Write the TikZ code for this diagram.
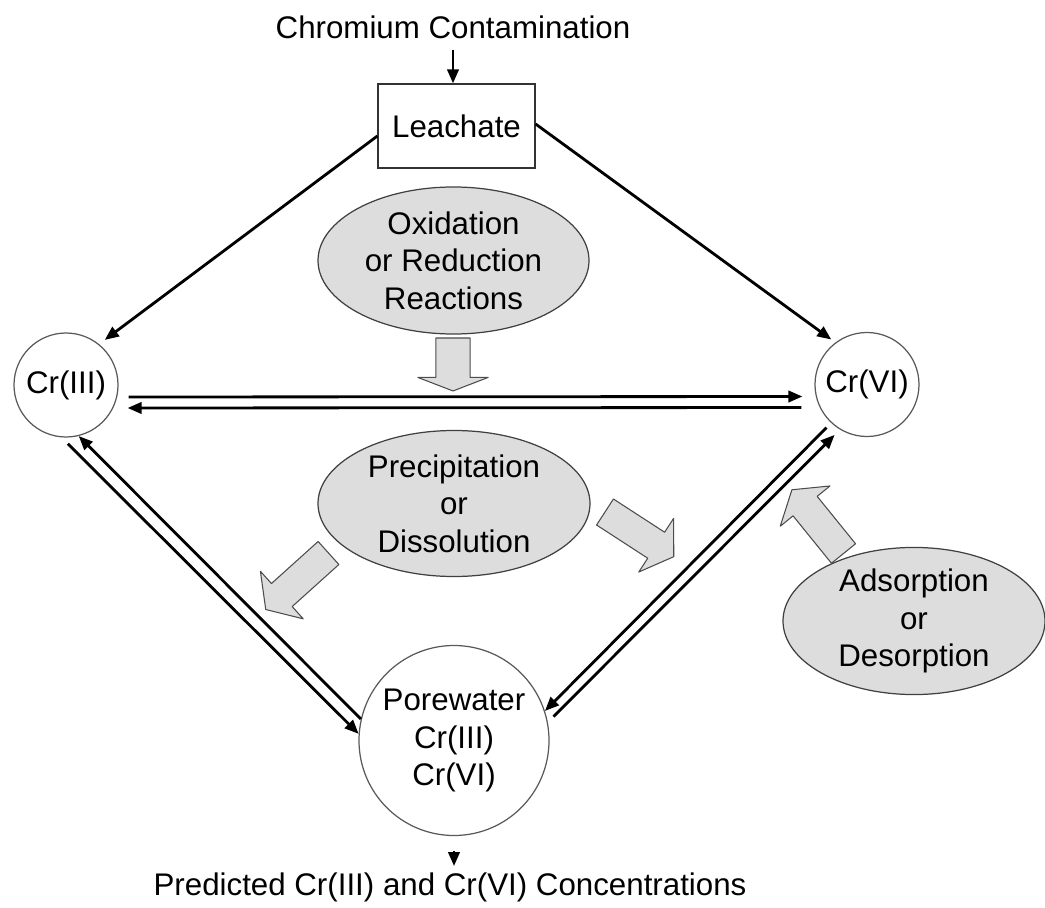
\documentclass[tikz,border=0pt]{standalone}
\usepackage{fontspec}
\setmainfont{Liberation Sans}
\usetikzlibrary{arrows.meta}
\usetikzlibrary{shapes.geometric}
\definecolor{shade}{RGB}{221,221,221}

\begin{document}
\begin{tikzpicture}[font=\fontsize{17.8}{21.3}\selectfont,
    box/.style={draw=black!80, line width=0.7pt, minimum width=3.14cm, minimum height=1.68cm},
    species/.style={circle, draw=black!65, line width=0.7pt, inner sep=0pt, align=center},
    process/.style={ellipse, draw=black!75, fill=shade, line width=0.7pt, inner sep=0pt, align=center},
    conn/.style={-{Triangle[length=8pt, width=6.5pt]}, line width=1.6pt},
    fat/.style={fill=shade, draw=black!70, line width=0.6pt, line join=round},
    fatarrow/.pic={\filldraw[fat] (0,-0.31) -- (1.22,-0.31) -- (1.22,-0.64) -- (1.64,0) -- (1.22,0.64) -- (1.22,0.31) -- (0,0.31) -- cycle;}]
    \useasboundingbox (0,0) rectangle (20.9,-18.16);

    \node (contam) at (9.06,-0.54) {Chromium Contamination};
    \node[box] (leach) at (9.13,-2.52) {Leachate};
    \node[process, minimum width=5.42cm, minimum height=2.94cm] (redox) at (9.07,-5.21) {Oxidation\\or Reduction\\Reactions};
    \node[species, minimum size=2.08cm] (cr3) at (1.32,-7.7) {Cr(III)};
    \node[species, minimum size=2.08cm] (cr6) at (17.34,-7.69) {Cr(VI)};
    \node[process, minimum width=5.44cm, minimum height=2.92cm] (precip) at (9.08,-10.07) {Precipitation\\or\\Dissolution};
    \node[process, minimum width=5.24cm, minimum height=2.92cm] (sorb) at (18.28,-12.42) {Adsorption\\or\\Desorption};
    \node[species, minimum size=3.8cm] (pw) at (9.08,-14.81) {Porewater\\Cr(III)\\Cr(VI)};
    \node[inner ysep=0pt] (pred) at (9.0,-17.74) {Predicted Cr(III) and Cr(VI) Concentrations};

    \pic[rotate=-90, xscale=0.646, yscale=1.1] at (9.06,-6.76) {fatarrow};
    \pic[rotate=222, xscale=1.03] at (6.57,-11.06) {fatarrow};
    \pic[rotate=-33] at (12.1,-10.24) {fatarrow};
    \pic[rotate=129] at (16.87,-11.07) {fatarrow};

    \draw[conn, shorten <=0.1cm] (contam) -- (contam |- leach.north);
    \draw[conn, shorten >=0.14cm] ([yshift=-0.2cm]leach.west) -- (cr3.51);
    \draw[conn, shorten >=0.1cm] ([yshift=0.04cm]leach.east) -- (cr6.127);
    \draw[conn, shorten <=0.2cm, shorten >=0.24cm] ([yshift=-0.24cm]cr3.east) -- ([yshift=-0.24cm]cr6.west);
    \draw[conn, shorten <=0.26cm, shorten >=0.18cm] ([yshift=-0.46cm]cr6.west) -- ([yshift=-0.46cm]cr3.east);
    \draw[conn, shorten <=0.18cm] (cr3.265) -- (pw.176);
    \draw[conn] (pw.167) -- (cr3.284);
    \draw[conn, shorten <=0.13cm] (cr6.227) -- (pw.18);
    \draw[conn, shorten <=0.16cm, shorten >=0.15cm] (pw.11) -- (cr6.239);
    \draw[conn, shorten <=0.3cm, shorten >=0.12cm] (pw) -- (pw |- pred.north);
\end{tikzpicture}
\end{document}
